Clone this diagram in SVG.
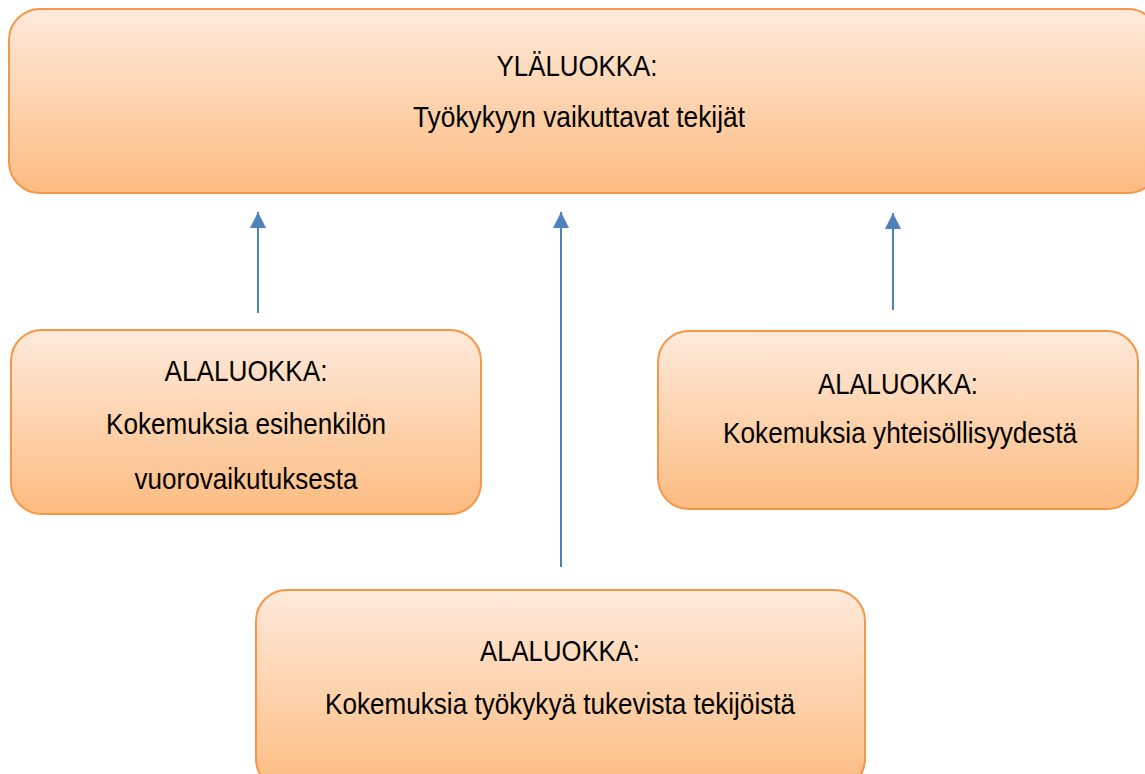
<svg xmlns="http://www.w3.org/2000/svg" width="1145" height="774" viewBox="0 0 1145 774">
<defs>
<linearGradient id="g" x1="0" y1="0" x2="0" y2="1">
<stop offset="0" stop-color="#FEEADB"/>
<stop offset="0.5" stop-color="#FDD3AE"/>
<stop offset="1" stop-color="#FCBB80"/>
</linearGradient>
<marker id="ah" viewBox="0 0 10 10" refX="10" refY="5" markerWidth="8" markerHeight="8" orient="auto" markerUnits="strokeWidth">
<path d="M0,0 L10,5 L0,10 z" fill="#4F81BD"/>
</marker>
<style>
.box{fill:url(#g);stroke:#F79646;stroke-width:2}
.t{font-family:"Liberation Sans",Arial,sans-serif;font-size:29.5px;fill:#000;text-anchor:middle}
.c{stroke:#4F81BD;stroke-width:2;fill:none;marker-end:url(#ah)}
</style>
</defs>
<g id="connectors">
<line class="c" x1="258" y1="313" x2="258" y2="212"/>
<line class="c" x1="561" y1="567" x2="561" y2="212"/>
<line class="c" x1="893" y1="310" x2="893" y2="213"/>
</g>
<g id="top">
<rect class="box" x="9" y="9" width="1150" height="184" rx="31"/>
<text class="t" x="577" y="76" textLength="161" lengthAdjust="spacingAndGlyphs">YLÄLUOKKA:</text>
<text class="t" x="579" y="127" textLength="332" lengthAdjust="spacingAndGlyphs">Työkykyyn vaikuttavat tekijät</text>
</g>
<g id="left">
<rect class="box" x="11" y="330" width="470" height="184" rx="31"/>
<text class="t" x="246" y="381" textLength="163" lengthAdjust="spacingAndGlyphs">ALALUOKKA:</text>
<text class="t" x="246" y="434" textLength="280" lengthAdjust="spacingAndGlyphs">Kokemuksia esihenkilön</text>
<text class="t" x="246" y="489" textLength="223" lengthAdjust="spacingAndGlyphs">vuorovaikutuksesta</text>
</g>
<g id="right">
<rect class="box" x="658" y="331" width="480" height="178" rx="31"/>
<text class="t" x="898" y="394" textLength="160" lengthAdjust="spacingAndGlyphs">ALALUOKKA:</text>
<text class="t" x="900" y="443" textLength="354" lengthAdjust="spacingAndGlyphs">Kokemuksia yhteisöllisyydestä</text>
</g>
<g id="bottom">
<rect class="box" x="256" y="590" width="609" height="200" rx="31"/>
<text class="t" x="560" y="661" textLength="160" lengthAdjust="spacingAndGlyphs">ALALUOKKA:</text>
<text class="t" x="560" y="714" textLength="470" lengthAdjust="spacingAndGlyphs">Kokemuksia työkykyä tukevista tekijöistä</text>
</g>
</svg>
